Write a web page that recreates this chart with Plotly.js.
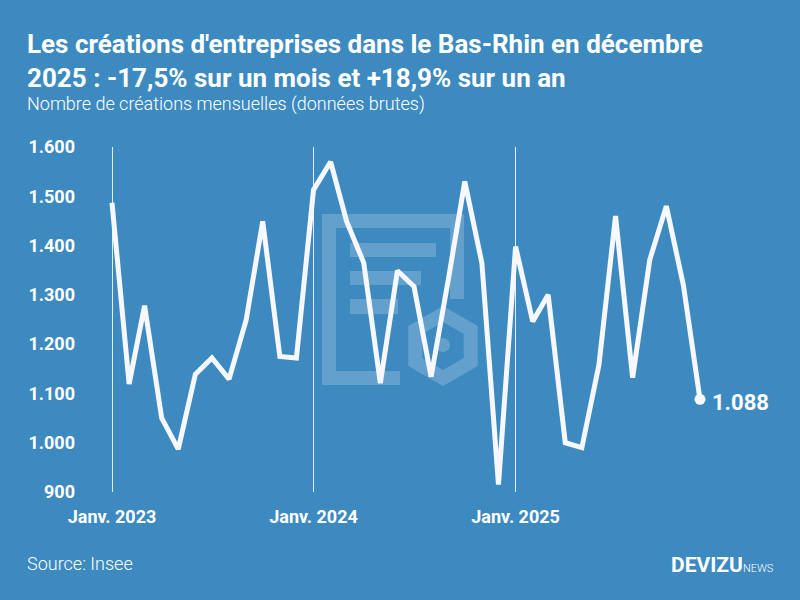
<!DOCTYPE html>
<html>
<head>
<meta charset="utf-8">
<script src="https://cdn.plot.ly/plotly-3.0.1.min.js"></script>
<style>html,body{margin:0;padding:0;background:#3d8ac0;}#chart{width:800px;height:600px;}</style>
</head>
<body>
<div id="chart"></div>
<script>
const months = ['2023-01-01','2023-02-01','2023-03-01','2023-04-01','2023-05-01','2023-06-01','2023-07-01','2023-08-01','2023-09-01','2023-10-01','2023-11-01','2023-12-01',
'2024-01-01','2024-02-01','2024-03-01','2024-04-01','2024-05-01','2024-06-01','2024-07-01','2024-08-01','2024-09-01','2024-10-01','2024-11-01','2024-12-01',
'2025-01-01','2025-02-01','2025-03-01','2025-04-01','2025-05-01','2025-06-01','2025-07-01','2025-08-01','2025-09-01','2025-10-01','2025-11-01','2025-12-01'];
const creations = [1487,1119,1278,1050,987,1139,1172,1129,1249,1449,1175,1172,
1513,1570,1449,1365,1121,1349,1317,1134,1330,1530,1364,915,
1398,1246,1300,1000,990,1158,1460,1132,1371,1480,1319,1088];
const tickVals = ['2023-01-01','2024-01-01','2025-01-01'];
const tickLabels = ['Janv. 2023','Janv. 2024','Janv. 2025'];
const yTicks = [900,1000,1100,1200,1300,1400,1500,1600];

const BG = '#3d8ac0';
const WM = 'rgba(255,255,255,0.2)';
// data area: first month at x=112, last month at x=700 (pixels)
const X0 = 112, X1 = 700, PAD = 8;
const L = X0 - PAD, R = 800 - X1 - PAD, T = 147, B = 108;
const PW = 800 - L - R, PH = 600 - T - B;
const px = x => (x - L) / PW;
const py = y => (600 - B - y) / PH;

const lastIdx = creations.length - 1;
const t0 = Date.parse(months[0] + 'T00:00:00Z'), t1 = Date.parse(months[lastIdx] + 'T00:00:00Z');
const msPerPx = (t1 - t0) / (X1 - X0);
const fmt = ms => new Date(ms).toISOString().replace('T', ' ').replace('Z', '');
const xRange = [fmt(t0 - PAD * msPerPx), fmt(t1 + PAD * msPerPx)];

const traces = [
  {x: months, y: creations, type: 'scatter', mode: 'lines',
   line: {color: '#f7f8ff', width: 5, shape: 'linear'}, hoverinfo: 'skip', cliponaxis: false},
  {x: [months[lastIdx]], y: [creations[lastIdx]], type: 'scatter', mode: 'markers',
   marker: {color: '#f7f8ff', size: 11}, hoverinfo: 'skip', cliponaxis: false}
];

function rect(x0, y0, x1, y1) {
  return {type: 'rect', xref: 'paper', yref: 'paper', x0: px(x0), x1: px(x1), y0: py(y1), y1: py(y0),
          fillcolor: WM, line: {width: 0}, layer: 'below'};
}
function hexPath(cx, cy, r) {
  let p = '';
  for (let i = 0; i < 6; i++) {
    const a = Math.PI / 2 + i * Math.PI / 3;
    const x = cx + r * Math.cos(a), y = cy - r * Math.sin(a);
    p += (i === 0 ? 'M' : 'L') + px(x) + ',' + py(y) + ' ';
  }
  return p + 'Z';
}
const shapes = [
  rect(322, 214, 336, 385),
  rect(336, 214, 464, 228),
  rect(450, 228, 464, 299),
  rect(336, 371, 400, 385),
  rect(350, 243, 436, 257),
  rect(350, 271, 421, 285),
  rect(350, 299, 398, 314),
  {type: 'path', xref: 'paper', yref: 'paper', path: hexPath(443, 346, 32), line: {color: WM, width: 14}, fillcolor: 'rgba(0,0,0,0)', layer: 'below'},
  {type: 'circle', xref: 'paper', yref: 'paper', x0: px(436), x1: px(450), y0: py(352), y1: py(338), fillcolor: WM, line: {width: 0}, layer: 'below'}
];

const annotations = [
  {xref: 'paper', yref: 'paper', x: px(25), y: py(27), xanchor: 'left', yanchor: 'top', align: 'left', showarrow: false,
   text: "Les créations d'entreprises dans le Bas-Rhin en décembre<br>2025 : -17,5% sur un mois et +18,9% sur un an",
   font: {family: 'Roboto', size: 26, color: '#ffffff', weight: 700}},
  {xref: 'paper', yref: 'paper', x: px(25), y: py(104), xanchor: 'left', yanchor: 'middle', showarrow: false,
   text: 'Nombre de créations mensuelles (données brutes)',
   font: {family: 'Roboto', size: 18, color: '#ffffff', weight: 300}},
  {xref: 'paper', yref: 'paper', x: px(25), y: py(563), xanchor: 'left', yanchor: 'middle', showarrow: false,
   text: 'Source: Insee',
   font: {family: 'Roboto', size: 18, color: '#ffffff', weight: 300}},
  {xref: 'paper', yref: 'paper', x: px(776), y: py(565), xanchor: 'right', yanchor: 'middle', showarrow: false,
   text: "<b>DEVIZU</b><span style='font-size:11px;font-weight:300'>NEWS</span>",
   font: {family: 'Roboto', size: 21, color: '#ffffff'}},
  {x: months[lastIdx], y: creations[lastIdx], xanchor: 'left', yanchor: 'middle', xshift: 10, yshift: -3, showarrow: false,
   text: '1.088', font: {family: 'Roboto', size: 22, color: '#ffffff', weight: 700}}
];

const layout = {
  width: 800, height: 600,
  paper_bgcolor: BG, plot_bgcolor: BG,
  margin: {l: L, r: R, t: T, b: B, pad: 0},
  separators: ',.',
  showlegend: false,
  xaxis: {type: 'date', range: xRange, tickvals: tickVals, ticktext: tickLabels,
          showgrid: true, gridcolor: 'rgba(255,255,255,0.85)', gridwidth: 1, zeroline: false, showline: false,
          ticks: '', ticklabelstandoff: 12,
          tickfont: {family: 'Roboto', size: 18, color: '#ffffff', weight: 700}, fixedrange: true},
  yaxis: {range: [900, 1600], tickvals: yTicks, tickformat: ',d', showgrid: false, zeroline: false, showline: false,
          ticks: '', ticklabelstandoff: 36 - PAD,
          tickfont: {family: 'Roboto', size: 18, color: '#ffffff', weight: 700}, fixedrange: true},
  shapes: shapes,
  annotations: annotations
};

Plotly.newPlot('chart', traces, layout, {displayModeBar: false, staticPlot: true});
</script>
</body>
</html>
